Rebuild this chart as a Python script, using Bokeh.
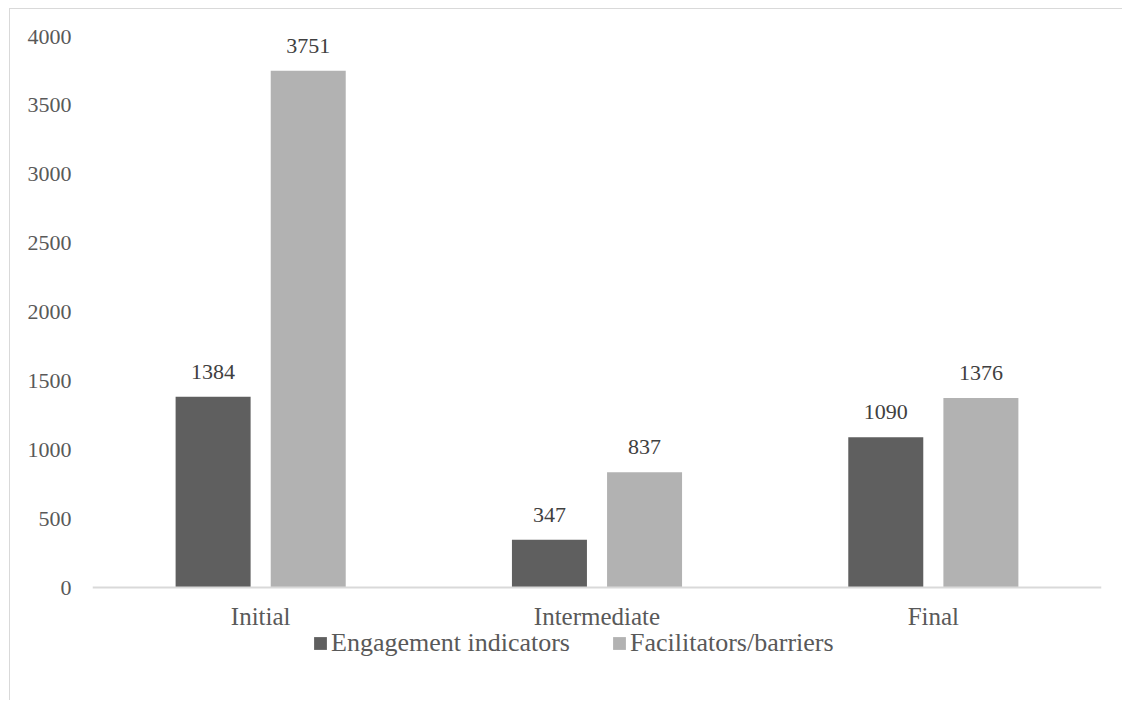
from bokeh.plotting import figure
from bokeh.models import ColumnDataSource, Legend, LegendItem, FixedTicker, Span
from bokeh.transform import dodge
from bokeh.embed import file_html
from bokeh.resources import INLINE
from bokeh.core.properties import value

stages = ["Initial", "Intermediate", "Final"]
engagement = [1384, 347, 1090]
facilitators = [3751, 837, 1376]
y_ticks = [0, 500, 1000, 1500, 2000, 2500, 3000, 3500, 4000]
series_names = ["Engagement indicators", "Facilitators/barriers"]

FONT = "Liberation Serif"
DARK = "#5f5f5f"
LIGHT = "#b2b2b2"

src = ColumnDataSource(dict(
    stage=stages,
    eng=engagement,
    fac=facilitators,
    eng_lbl=[str(v) for v in engagement],
    fac_lbl=[str(v) for v in facilitators],
    base=[0] * len(stages),
))

# frame extends below the zero line so the legend can sit inside it
y_bottom = -(701 - 587) * 4000 / 551.0
p = figure(
    x_range=stages, y_range=(y_bottom, 4000),
    width=1113, height=692,
    output_backend="svg", toolbar_location=None,
    x_axis_location=None,
    min_border_left=82, min_border_right=22, min_border_top=27, min_border_bottom=0,
    margin=(8, 0, 0, 9),
)
p.styles = {"border-top": "1px solid #d9d9d9", "border-left": "1px solid #d9d9d9"}
p.outline_line_color = None
p.xgrid.grid_line_color = None
p.ygrid.grid_line_color = None
p.x_range.range_padding = 0

# category axis line
p.add_layout(Span(location=0, dimension="width", line_color="#d9d9d9", line_width=2))

off = 0.1414
bw = 0.223
r1 = p.vbar(x=dodge("stage", -off, range=p.x_range), top="eng", width=bw, source=src,
            fill_color=DARK, line_color=None)
r2 = p.vbar(x=dodge("stage", off, range=p.x_range), top="fac", width=bw, source=src,
            fill_color=LIGHT, line_color=None)

for col, lbl, o in (("eng", "eng_lbl", -off), ("fac", "fac_lbl", off)):
    p.text(x=dodge("stage", o, range=p.x_range), y=col, text=lbl, source=src,
           text_align="center", text_baseline="alphabetic", y_offset=-25,
           text_font=value(FONT), text_font_size="22px", text_color="#404040")

# category labels
p.text(x="stage", y="base", text="stage", source=src,
       text_align="center", text_baseline="alphabetic", y_offset=29,
       text_font=value(FONT), text_font_size="25px", text_color="#595959")

# y axis
p.yaxis.ticker = FixedTicker(ticks=y_ticks)
p.yaxis.axis_line_color = None
p.yaxis.major_tick_line_color = None
p.yaxis.minor_tick_line_color = None
p.yaxis.major_label_standoff = 15
p.yaxis.major_label_text_font = FONT
p.yaxis.major_label_text_font_size = "22px"
p.yaxis.major_label_text_color = "#595959"

legend = Legend(items=[LegendItem(label=series_names[0], renderers=[r1]),
                       LegendItem(label=series_names[1], renderers=[r2])],
                orientation="horizontal", location=(220, 43))
legend.border_line_color = None
legend.background_fill_alpha = 0
legend.padding = 0
legend.margin = 0
legend.spacing = 41
legend.glyph_width = 16
legend.glyph_height = 16
legend.label_standoff = 3
legend.label_text_font = FONT
legend.label_text_font_size = "26px"
legend.label_text_color = "#595959"
p.add_layout(legend, "center")

open("out.html", "w").write(file_html(p, INLINE))
